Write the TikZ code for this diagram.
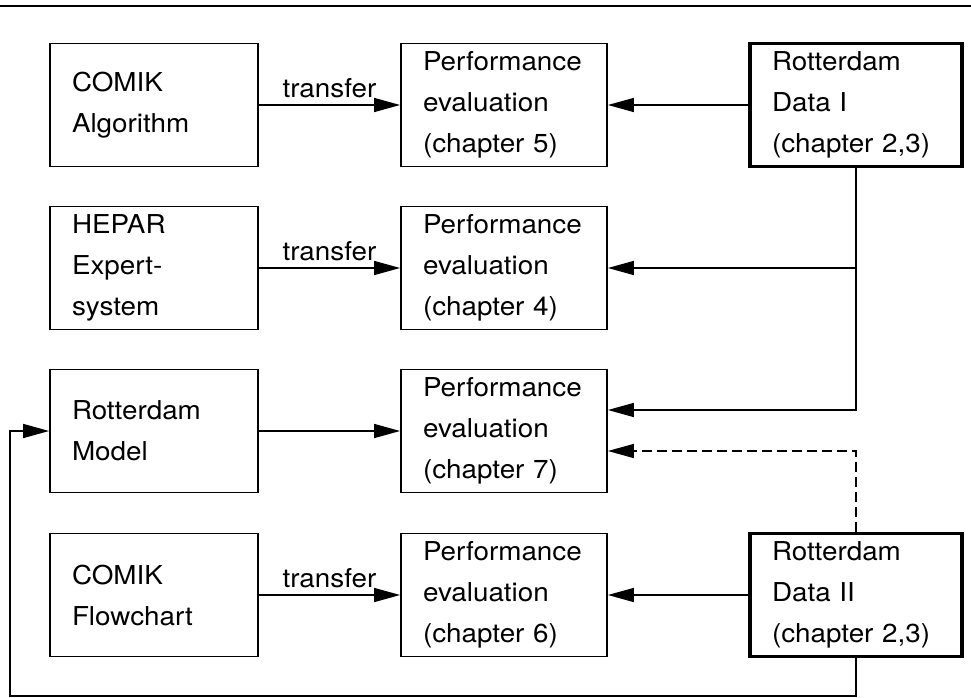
\documentclass[tikz,border=0pt]{standalone}
\usepackage{fontspec}
\setmainfont[FakeStretch=1.07]{TeX Gyre Heros}
\usetikzlibrary{arrows.meta}

\begin{document}
\begin{tikzpicture}[x=1pt,y=-1pt,
  box/.style={draw, line width=1.8pt, inner xsep=22pt, inner ysep=0pt,
    text width=164pt, minimum height=123pt, align=left,
    font=\fontsize{26}{41}\selectfont},
  evalbox/.style={box, text width=162pt},
  databox/.style={box, line width=3.6pt, text width=168pt},
  link/.style={line width=1.5pt, -{Triangle[length=26pt,width=14pt]}},
  optlink/.style={link, dash pattern=on 10pt off 5pt},
  lbl/.style={font=\fontsize{26}{28}\selectfont, inner sep=0pt}
]
\useasboundingbox (0,0) rectangle (971,698);

% rule across the top
\draw[line width=2pt] (0,6) -- (971,6);

% sources (left column)
\node[box] (alg)  at (154,105) {COMIK\\Algorithm};
\node[box] (hep)  at (154,268) {HEPAR\\Expert-\\system};
\node[box] (mod)  at (154,431) {Rotterdam\\Model};
\node[box] (flow) at (154,595) {COMIK\\Flowchart};

% evaluations (middle column)
\node[evalbox] (ev5) at (504,105) {Performance\\evaluation\\(chapter 5)};
\node[evalbox] (ev4) at (504,268) {Performance\\evaluation\\(chapter 4)};
\node[evalbox] (ev7) at (504,431) {Performance\\evaluation\\(chapter 7)};
\node[evalbox] (ev6) at (504,595) {Performance\\evaluation\\(chapter 6)};

% data sets (right column)
\node[databox] (dat1) at (856,105) {Rotterdam\\Data I\\(chapter 2,3)};
\node[databox] (dat2) at (856,595) {Rotterdam\\Data II\\(chapter 2,3)};

\coordinate (lowleft) at (10,696);

% transfers into the evaluations
\draw[link] (alg)  -- node[lbl, above=6pt] {transfer} (ev5);
\draw[link] (hep)  -- node[lbl, above=6pt] {transfer} (ev4);
\draw[link] (mod)  -- (ev7);
\draw[link] (flow) -- node[lbl, above=6pt] {transfer} (ev6);

% data feeding the evaluations
\draw[link] (dat1) -- (ev5);
\draw[link] (dat1.south) |- (ev4.east);
\draw[link] (dat1.south) |- ([yshift=21pt]ev7.east);
\draw[optlink] (dat2.north) |- ([yshift=-20pt]ev7.east);
\draw[link] (dat2) -- (ev6);

% Data II back into the model
\draw[link] (dat2.south) |- (lowleft) |- (mod.west);
\end{tikzpicture}
\end{document}
